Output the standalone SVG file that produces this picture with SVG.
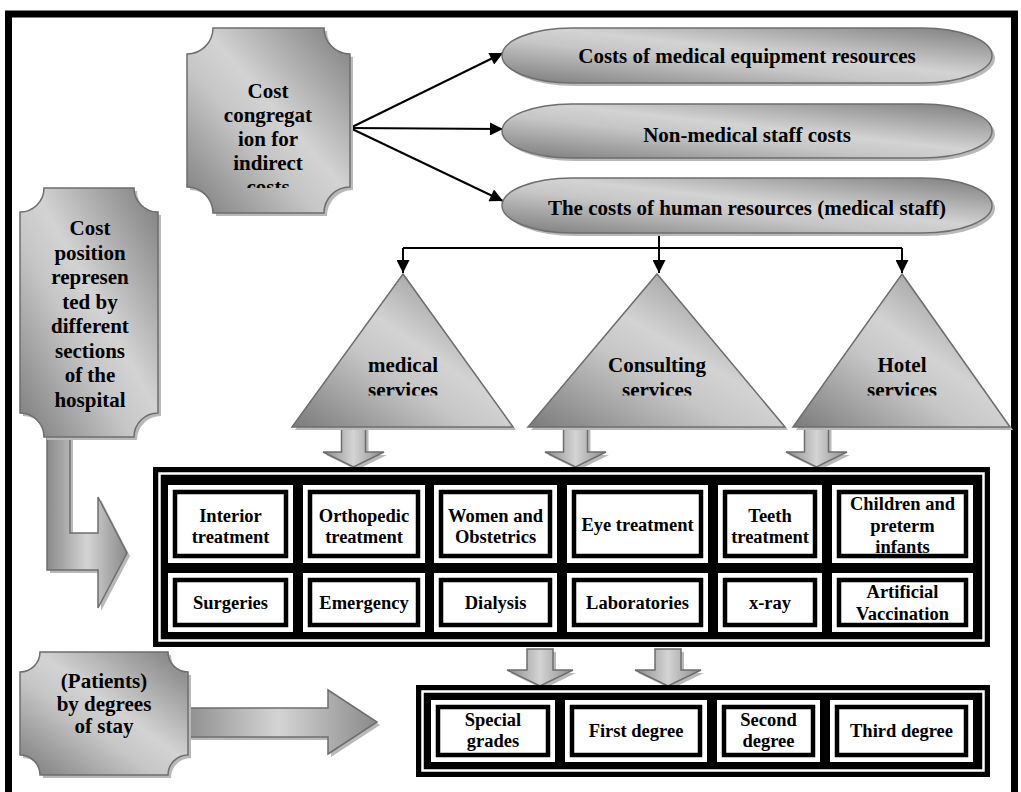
<svg xmlns="http://www.w3.org/2000/svg" width="1021" height="792" viewBox="0 0 1021 792">
<defs>
<linearGradient id="g" x1="1" y1="0" x2="0" y2="1">
<stop offset="0" stop-color="#7c7c7c"/>
<stop offset="0.45" stop-color="#d3d3d3"/>
<stop offset="0.6" stop-color="#c6c6c6"/>
<stop offset="1" stop-color="#7a7a7a"/>
</linearGradient>
<linearGradient id="ga" x1="0" y1="0" x2="1" y2="0">
<stop offset="0" stop-color="#8a8a8a"/>
<stop offset="0.5" stop-color="#d4d4d4"/>
<stop offset="1" stop-color="#8a8a8a"/>
</linearGradient>
<marker id="ah" viewBox="0 0 10 10" markerUnits="userSpaceOnUse" markerWidth="15" markerHeight="13" refX="10" refY="5" orient="auto">
<path d="M0,0 L10,5 L0,10 z" fill="#000"/>
</marker>
<clipPath id="clipCC"><rect x="187" y="28" width="163" height="160"/></clipPath>
<clipPath id="clipTri"><rect x="280" y="270" width="740" height="125.5"/></clipPath>
</defs>
<style>
.sh{fill:#b9b9b9}
.sp{fill:url(#g);stroke:#6e6e6e;stroke-width:1.5}
.ar{fill:url(#ga);stroke:#6e6e6e;stroke-width:1.5}
.t{font-family:"Liberation Serif","Times New Roman",serif;font-weight:bold;font-size:21px;fill:#000;text-anchor:middle}
.c{font-size:18.5px}
.con{stroke:#000;stroke-width:2;fill:none}
.cw{fill:#fff}
.cb{fill:#fff;stroke:#000;stroke-width:4.5}
</style>
<rect x="0" y="0" width="1021" height="792" fill="#fff"/>
<rect x="8.5" y="14" width="1006" height="800" fill="none" stroke="#000" stroke-width="7"/>

<g id="connectors">
<path class="con" d="M350,128 L503,53" marker-end="url(#ah)"/>
<path class="con" d="M350,128 L503,129" marker-end="url(#ah)"/>
<path class="con" d="M350,128 L503,201" marker-end="url(#ah)"/>
<path class="con" d="M403,248 H902"/>
<path class="con" d="M659,233 V273" marker-end="url(#ah)"/>
<path class="con" d="M403,248 V273" marker-end="url(#ah)"/>
<path class="con" d="M902,248 V273" marker-end="url(#ah)"/>
</g>

<g id="node-cost-congregation">
<path class="sh" transform="translate(3,3)" d="M213,28 H324 A26 26 0 0 0 350,54 V187 A26 26 0 0 0 324,213 H213 A26 26 0 0 0 187,187 V54 A26 26 0 0 0 213,28 Z"/>
<path class="sp" d="M213,28 H324 A26 26 0 0 0 350,54 V187 A26 26 0 0 0 324,213 H213 A26 26 0 0 0 187,187 V54 A26 26 0 0 0 213,28 Z"/>
<g clip-path="url(#clipCC)">
<text class="t" x="268" y="98">Cost</text>
<text class="t" x="268" y="122">congregat</text>
<text class="t" x="268" y="146">ion for</text>
<text class="t" x="268" y="170">indirect</text>
<text class="t" x="268" y="194">costs</text>
</g>
</g>

<g id="node-equipment">
<rect class="sh" x="505" y="31" width="490" height="55" rx="70" ry="27.5"/>
<rect class="sp" x="502" y="28" width="490" height="55" rx="70" ry="27.5"/>
<text class="t" x="747" y="63">Costs of medical equipment resources</text>
</g>
<g id="node-nonmedical">
<rect class="sh" x="505" y="107" width="490" height="54" rx="70" ry="27"/>
<rect class="sp" x="502" y="104" width="490" height="54" rx="70" ry="27"/>
<text class="t" x="747" y="142">Non-medical staff costs</text>
</g>
<g id="node-human">
<rect class="sh" x="505" y="181" width="490" height="55" rx="70" ry="27.5"/>
<rect class="sp" x="502" y="178" width="490" height="55" rx="70" ry="27.5"/>
<text class="t" x="747" y="215">The costs of human resources (medical staff)</text>
</g>

<g id="arrows-down">
<path class="sh" transform="translate(3,3)" d="M341.5,425 H365.5 V452 H384 L353.5,467 L323,452 H341.5 Z"/>
<path class="ar" d="M341.5,425 H365.5 V452 H384 L353.5,467 L323,452 H341.5 Z"/>
<path class="sh" transform="translate(3,3)" d="M563.5,425 H587.5 V452 H606 L575.5,467 L545,452 H563.5 Z"/>
<path class="ar" d="M563.5,425 H587.5 V452 H606 L575.5,467 L545,452 H563.5 Z"/>
<path class="sh" transform="translate(3,3)" d="M804.5,425 H828.5 V452 H847 L816.5,467 L786,452 H804.5 Z"/>
<path class="ar" d="M804.5,425 H828.5 V452 H847 L816.5,467 L786,452 H804.5 Z"/>
</g>

<g id="node-medical-services">
<path class="sh" transform="translate(3,3)" d="M403,274 L513,427 H292 Z"/>
<path class="sp" d="M403,274 L513,427 H292 Z"/>
<g clip-path="url(#clipTri)">
<text class="t" x="403" y="372">medical</text>
<text class="t" x="403" y="397">services</text>
</g>
</g>
<g id="node-consulting-services">
<path class="sh" transform="translate(3,3)" d="M657,274 L785,427 H528 Z"/>
<path class="sp" d="M657,274 L785,427 H528 Z"/>
<g clip-path="url(#clipTri)">
<text class="t" x="657" y="372">Consulting</text>
<text class="t" x="657" y="397">services</text>
</g>
</g>
<g id="node-hotel-services">
<path class="sh" transform="translate(3,3)" d="M902,274 L1010,427 H793 Z"/>
<path class="sp" d="M902,274 L1010,427 H793 Z"/>
<g clip-path="url(#clipTri)">
<text class="t" x="902" y="372">Hotel</text>
<text class="t" x="902" y="397">services</text>
</g>
</g>

<g id="node-cost-position">
<path class="sh" transform="translate(3,3)" d="M47,430 H70 V533 H98 V497 L127,553 L98,608 V570 H47 Z"/>
<path class="ar" d="M47,430 H70 V533 H98 V497 L127,553 L98,608 V570 H47 Z"/>
<path class="sh" transform="translate(3,3)" d="M44,188 H134 A24 24 0 0 0 158,212 V413 A24 24 0 0 0 134,437 H44 A24 24 0 0 0 20,413 V212 A24 24 0 0 0 44,188 Z"/>
<path class="sp" d="M44,188 H134 A24 24 0 0 0 158,212 V413 A24 24 0 0 0 134,437 H44 A24 24 0 0 0 20,413 V212 A24 24 0 0 0 44,188 Z"/>
<text class="t" x="90" y="235">Cost</text>
<text class="t" x="90" y="259.5">position</text>
<text class="t" x="90" y="284">represen</text>
<text class="t" x="90" y="308.5">ted by</text>
<text class="t" x="90" y="333">different</text>
<text class="t" x="90" y="357.5">sections</text>
<text class="t" x="90" y="382">of the</text>
<text class="t" x="90" y="406.5">hospital</text>
</g>

<g id="node-sections">
<rect x="153" y="467" width="837" height="180" fill="#000"/>
<rect x="159.5" y="473.5" width="824" height="167" fill="none" stroke="#fff" stroke-width="2.5"/>
<rect class="cw" x="168" y="485" width="125" height="78"/><rect class="cb" x="175" y="492" width="111" height="64"/>
<rect class="cw" x="303" y="485" width="122" height="78"/><rect class="cb" x="310" y="492" width="108" height="64"/>
<rect class="cw" x="434" y="485" width="123" height="78"/><rect class="cb" x="441" y="492" width="109" height="64"/>
<rect class="cw" x="567" y="485" width="141" height="78"/><rect class="cb" x="574" y="492" width="127" height="64"/>
<rect class="cw" x="718" y="485" width="104" height="78"/><rect class="cb" x="725" y="492" width="90" height="64"/>
<rect class="cw" x="832" y="485" width="141" height="78"/><rect class="cb" x="839" y="492" width="127" height="64"/>
<rect class="cw" x="168" y="573" width="125" height="59"/><rect class="cb" x="175" y="580" width="111" height="45"/>
<rect class="cw" x="303" y="573" width="122" height="59"/><rect class="cb" x="310" y="580" width="108" height="45"/>
<rect class="cw" x="434" y="573" width="123" height="59"/><rect class="cb" x="441" y="580" width="109" height="45"/>
<rect class="cw" x="567" y="573" width="141" height="59"/><rect class="cb" x="574" y="580" width="127" height="45"/>
<rect class="cw" x="718" y="573" width="104" height="59"/><rect class="cb" x="725" y="580" width="90" height="45"/>
<rect class="cw" x="832" y="573" width="141" height="59"/><rect class="cb" x="839" y="580" width="127" height="45"/>
<text class="t c" x="230.5" y="522">Interior</text>
<text class="t c" x="230.5" y="543">treatment</text>
<text class="t c" x="364" y="522">Orthopedic</text>
<text class="t c" x="364" y="543">treatment</text>
<text class="t c" x="495.5" y="522">Women and</text>
<text class="t c" x="495.5" y="543">Obstetrics</text>
<text class="t c" x="637.5" y="531">Eye treatment</text>
<text class="t c" x="770" y="522">Teeth</text>
<text class="t c" x="770" y="543">treatment</text>
<text class="t c" x="902.5" y="510">Children and</text>
<text class="t c" x="902.5" y="532">preterm</text>
<text class="t c" x="902.5" y="553">infants</text>
<text class="t c" x="230.5" y="609">Surgeries</text>
<text class="t c" x="364" y="609">Emergency</text>
<text class="t c" x="495.5" y="609">Dialysis</text>
<text class="t c" x="637.5" y="609">Laboratories</text>
<text class="t c" x="770" y="609">x-ray</text>
<text class="t c" x="902.5" y="598">Artificial</text>
<text class="t c" x="902.5" y="620">Vaccination</text>
</g>

<g id="arrows-degrees">
<path class="sh" transform="translate(3,3)" d="M527,649 H553 V670 H573 L540,686 L507,670 H527 Z"/>
<path class="ar" d="M527,649 H553 V670 H573 L540,686 L507,670 H527 Z"/>
<path class="sh" transform="translate(3,3)" d="M655,649 H681 V670 H701 L668,686 L635,670 H655 Z"/>
<path class="ar" d="M655,649 H681 V670 H701 L668,686 L635,670 H655 Z"/>
</g>

<g id="node-patients">
<path class="sh" transform="translate(3,3)" d="M180,708 H328 V690 L377,722 L328,754 V737 H180 Z"/>
<path class="ar" d="M180,708 H328 V690 L377,722 L328,754 V737 H180 Z"/>
<path class="sh" transform="translate(3,3)" d="M40,652 H168 A20 20 0 0 0 188,672 V755 A20 20 0 0 0 168,775 H40 A20 20 0 0 0 20,755 V672 A20 20 0 0 0 40,652 Z"/>
<path class="sp" d="M40,652 H168 A20 20 0 0 0 188,672 V755 A20 20 0 0 0 168,775 H40 A20 20 0 0 0 20,755 V672 A20 20 0 0 0 40,652 Z"/>
<text class="t" x="104" y="688">(Patients)</text>
<text class="t" x="104" y="710.5">by degrees</text>
<text class="t" x="104" y="733">of stay</text>
</g>

<g id="node-degrees">
<rect x="416" y="685" width="574" height="92" fill="#000"/>
<rect x="422.5" y="691.5" width="561" height="79" fill="none" stroke="#fff" stroke-width="2.5"/>
<rect class="cw" x="431" y="700" width="124" height="62"/><rect class="cb" x="438" y="707" width="110" height="48"/>
<rect class="cw" x="565" y="700" width="142" height="62"/><rect class="cb" x="572" y="707" width="128" height="48"/>
<rect class="cw" x="717" y="700" width="103" height="62"/><rect class="cb" x="724" y="707" width="89" height="48"/>
<rect class="cw" x="830" y="700" width="143" height="62"/><rect class="cb" x="837" y="707" width="129" height="48"/>
<text class="t c" x="493" y="726">Special</text>
<text class="t c" x="493" y="747">grades</text>
<text class="t c" x="636" y="737">First degree</text>
<text class="t c" x="768.5" y="726">Second</text>
<text class="t c" x="768.5" y="747">degree</text>
<text class="t c" x="901.5" y="737">Third degree</text>
</g>
</svg>
